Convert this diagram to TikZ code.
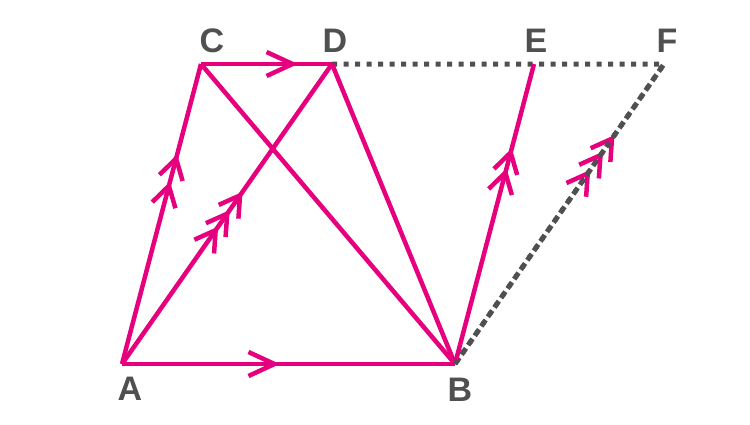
\documentclass[tikz,border=0pt]{standalone}
\usepackage{fontspec}
\setmainfont{Liberation Sans}
\usetikzlibrary{arrows.meta,decorations.markings}
\definecolor{edge}{RGB}{230,0,126}
\definecolor{ink}{RGB}{80,80,80}
\tikzset{
  bigbarb/.tip={Straight Barb[length=26pt,width=24pt]},
  smallbarb/.tip={Straight Barb[length=20pt,width=24pt]},
  side/.style={draw=edge,line width=4.5pt},
  hidden/.style={draw=ink,line width=5pt,dash pattern=on 5pt off 6.5pt},
  label/.style={text=ink,inner sep=0pt,font=\fontsize{34}{40}\selectfont\bfseries},
  one/.style={postaction=decorate,decoration={markings,
    mark=at position #1 with {\arrow{bigbarb}}}},
  two/.style 2 args={postaction=decorate,decoration={markings,
    mark=at position #1 with {\arrow{smallbarb}},
    mark=at position #2 with {\arrow{smallbarb}}}},
  three/.style n args={3}{postaction=decorate,decoration={markings,
    mark=at position #1 with {\arrow{smallbarb}},
    mark=at position #2 with {\arrow{smallbarb}},
    mark=at position #3 with {\arrow{smallbarb}}}},
}

\begin{document}
\begin{tikzpicture}[x=1pt,y=-1pt]
  \useasboundingbox (0,0) rectangle (750,424);
  % vertices
  \coordinate (A) at (122,364);
  \coordinate (B) at (455,364);
  \coordinate (C) at (201,64);
  \coordinate (D) at (332,64);
  \coordinate (E) at (534,64);
  \coordinate (F) at (664,64);
  % labels
  \node [label] (labA) at (130,389) {A};
  \node [label] (labB) at (460,390) {B};
  \node [label] (labC) at (212,41) {C};
  \node [label] (labD) at (335,41) {D};
  \node [label] (labE) at (536,41) {E};
  \node [label] (labF) at (667,41) {F};
  % construction lines
  \draw [hidden]
    (D)
    -- (F)
    -- (B)
  ;
  % sides
  \draw [side,one=0.474] (A) -- (B);
  \draw [side,one=0.74] (C) -- (D);
  \draw [side,two={0.608}{0.699}] (A) -- (C);
  \draw [side,three={0.458}{0.513}{0.574}] (A) -- (D);
  \draw [side,two={0.652}{0.719}] (B) -- (E);
  \draw [side] (C) -- (B);
  \draw [side] (D) -- (B);
  % parallel marks on BF
  \path [color=edge,line width=4.5pt,three={0.647}{0.708}{0.763}]
    (B) -- (F)
  ;
  \draw [hidden] (B) -- (F);
\end{tikzpicture}
\end{document}
